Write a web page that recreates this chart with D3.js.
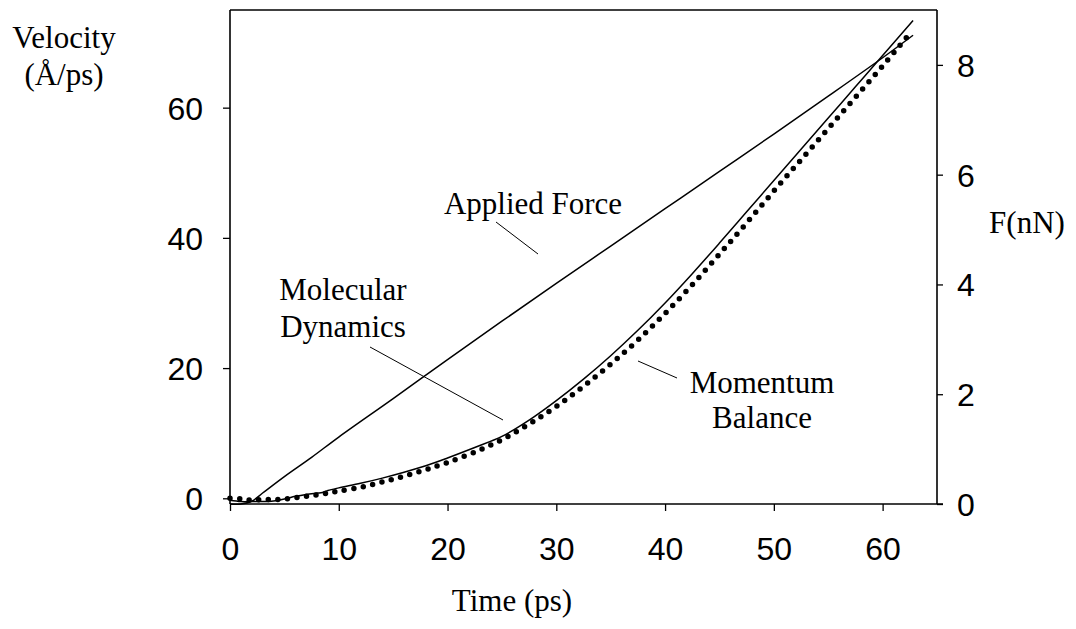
<!DOCTYPE html>
<html>
<head>
<meta charset="utf-8">
<script src="https://cdn.jsdelivr.net/npm/d3@7"></script>
<style>
  body { margin: 0; background: #fff; }
  .tick text { font-family: "Liberation Sans", Arial, sans-serif; font-size: 32px; fill: #000; }
  .label { font-family: "Liberation Serif", "Times New Roman", serif; font-size: 31px; fill: #000; }
</style>
</head>
<body>
<svg id="chart" width="1076" height="629"></svg>
<script>
// *******************
// data
// *******************

// tick labels
const xTicks = [0, 10, 20, 30, 40, 50, 60];
const vTicks = [0, 20, 40, 60];
const fTicks = [0, 2, 4, 6, 8];

// applied force, nN (right axis)
const forceTime = [0, 1, 2, 3, 5, 7.5, 10, 15, 20, 25, 30, 35, 40, 45, 50, 55, 60, 62.8];
const forceVal  = [0, 0, 0.05, 0.2, 0.5, 0.85, 1.22, 1.92, 2.63, 3.33, 4.02, 4.7, 5.38, 6.06, 6.74, 7.43, 8.13, 8.54];

// molecular dynamics velocity, Å/ps (left axis)
const mdTime = [0, 1, 2, 3, 4, 5, 6, 7, 8, 8.5, 9, 10, 12, 14, 16, 18, 20, 22.5, 25, 27.5, 30, 32.5, 35, 37.5, 40, 42.5, 45, 47.5, 50, 52.5, 55, 57.5, 60, 62.8];
const mdVal  = [-0.3, -0.5, -0.5, -0.5, -0.4, -0.1, 0.3, 0.6, 0.8, 0.9, 1.2, 1.6, 2.3, 3.1, 4.0, 5.0, 6.2, 7.8, 9.5, 12.0, 15.0, 18.3, 21.9, 25.8, 30.0, 34.5, 39.2, 44.0, 48.8, 53.6, 58.4, 63.2, 68.0, 73.4];

// momentum balance velocity, Å/ps (left axis, dotted)
const mbTime = [0, 1, 2, 3, 4, 5, 6, 7, 8, 9, 10, 12, 14, 16, 18, 20, 22.5, 25, 27.5, 30, 32.5, 35, 37.5, 40, 42.5, 45, 47.5, 50, 52.5, 55, 57.5, 60, 62.5];
const mbVal  = [0, -0.1, -0.3, -0.2, -0.2, -0.1, 0.1, 0.3, 0.55, 0.8, 1.1, 1.7, 2.5, 3.4, 4.4, 5.5, 7.1, 9.0, 11.4, 14.1, 17.2, 20.6, 24.3, 28.4, 32.8, 37.5, 42.3, 47.2, 52.0, 56.8, 61.6, 66.4, 71.4];

const svg = d3.select("#chart");

const LEFT = 230, RIGHT = 937, TOP = 10, BOTTOM = 504;

const x = d3.scaleLinear().domain([0, 65]).range([LEFT, RIGHT]);
const yV = d3.scaleLinear().domain([-0.875, 75]).range([BOTTOM, TOP]);
const yF = d3.scaleLinear().domain([0, 9]).range([BOTTOM, TOP]);

// top edge of the frame; the three axes draw the other sides
svg.append("line")
  .attr("x1", LEFT).attr("x2", RIGHT)
  .attr("y1", TOP).attr("y2", TOP)
  .attr("stroke", "#000").attr("stroke-width", 1.6);

function styleAxis(g) {
  g.select(".domain").attr("stroke", "#000").attr("stroke-width", 1.6);
  g.selectAll(".tick line").attr("stroke", "#000").attr("stroke-width", 1.3);
}

svg.append("g")
  .attr("class", "axis-x")
  .attr("transform", `translate(0,${BOTTOM})`)
  .call(d3.axisBottom(x).tickValues(xTicks).tickSize(7).tickSizeOuter(0).tickPadding(26))
  .call(styleAxis)
  .call((g) => g.select(".domain").attr("d", `M${LEFT},0H${RIGHT + 6}`));

svg.append("g")
  .attr("class", "axis-v")
  .attr("transform", `translate(${LEFT},0)`)
  .call(d3.axisLeft(yV).tickValues(vTicks).tickSize(7).tickSizeOuter(0).tickPadding(20))
  .call(styleAxis)
  .call((g) => g.select(".domain").attr("d", `M0,${TOP}V${BOTTOM}`));

svg.append("g")
  .attr("class", "axis-f")
  .attr("transform", `translate(${RIGHT},0)`)
  .call(d3.axisRight(yF).tickValues(fTicks).tickSize(6).tickSizeOuter(0).tickPadding(14))
  .call(styleAxis)
  .call((g) => g.select(".domain").attr("d", `M0,${TOP}V${BOTTOM}`));

svg.selectAll(".axis-v .tick text, .axis-f .tick text").attr("dy", "0.36em");
svg.selectAll(".axis-x .tick text").attr("dy", "0.71em");

// curves (catmull-rom keeps them smooth through the read-off points)
const lineV = d3.line().x((d) => x(d[0])).y((d) => yV(d[1])).curve(d3.curveCatmullRom.alpha(0.5));
const lineF = d3.line().x((d) => x(d[0])).y((d) => yF(d[1])).curve(d3.curveCatmullRom.alpha(0.5));

svg.append("path")
  .datum(d3.zip(forceTime, forceVal))
  .attr("d", lineF)
  .attr("fill", "none")
  .attr("stroke", "#000")
  .attr("stroke-width", 1.5);

svg.append("path")
  .datum(d3.zip(mdTime, mdVal))
  .attr("d", lineV)
  .attr("fill", "none")
  .attr("stroke", "#000")
  .attr("stroke-width", 1.5);

svg.append("path")
  .datum(d3.zip(mbTime, mbVal))
  .attr("d", lineV)
  .attr("fill", "none")
  .attr("stroke", "#000")
  .attr("stroke-width", 5.5)
  .attr("stroke-linecap", "round")
  .attr("stroke-dasharray", "0 9.6");

// leader lines for the annotations
const leaders = [
  [496, 222, 538, 254],
  [370, 347, 503, 420],
  [638, 361, 677, 378],
];
svg.selectAll("line.leader")
  .data(leaders)
  .join("line")
  .attr("class", "leader")
  .attr("x1", (d) => d[0]).attr("y1", (d) => d[1])
  .attr("x2", (d) => d[2]).attr("y2", (d) => d[3])
  .attr("stroke", "#000").attr("stroke-width", 1);

// text labels
const labels = [
  { t: "Velocity", x: 64, y: 48 },
  { t: "(Å/ps)", x: 64, y: 85 },
  { t: "F(nN)", x: 1027, y: 233 },
  { t: "Time (ps)", x: 512, y: 611 },
  { t: "Applied Force", x: 533, y: 214 },
  { t: "Molecular", x: 343, y: 300 },
  { t: "Dynamics", x: 343, y: 337 },
  { t: "Momentum", x: 762, y: 393 },
  { t: "Balance", x: 762, y: 428 },
];
svg.selectAll("text.label")
  .data(labels)
  .join("text")
  .attr("class", "label")
  .attr("text-anchor", "middle")
  .attr("x", (d) => d.x)
  .attr("y", (d) => d.y)
  .text((d) => d.t);
</script>
</body>
</html>
